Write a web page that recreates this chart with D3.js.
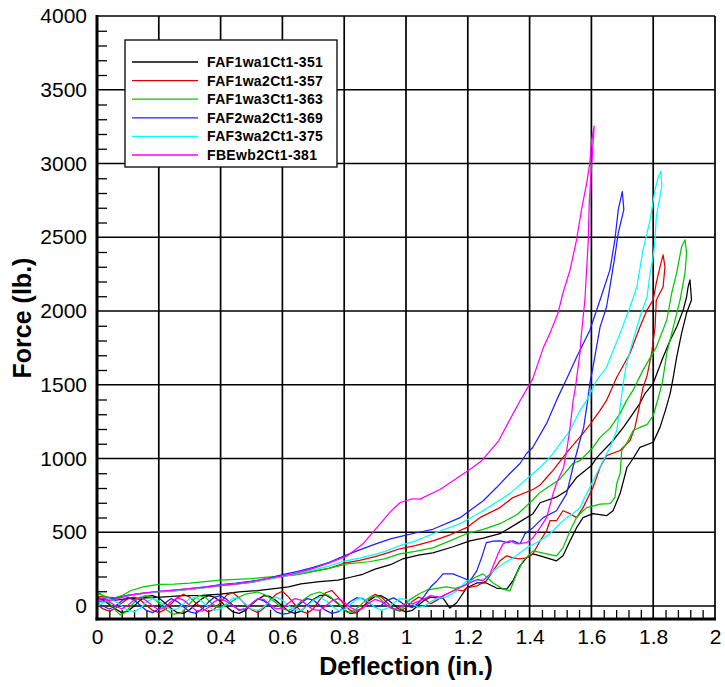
<!DOCTYPE html>
<html>
<head>
<meta charset="utf-8">
<script src="https://cdn.jsdelivr.net/npm/d3@7/dist/d3.min.js"></script>
<style>
  body { margin: 0; background: #fff; }
  text { font-family: Arial, "Liberation Sans", sans-serif; }
</style>
</head>
<body>
<div id="chart"></div>
<script>
// specimen names and line colours (legend order)
var names = ["FAF1wa1Ct1-351", "FAF1wa2Ct1-357", "FAF1wa3Ct1-363", "FAF2wa2Ct1-369", "FAF3wa2Ct1-375", "FBEwb2Ct1-381"];
var colors = ["#000000", "#e00000", "#00c800", "#2020ff", "#00ffff", "#ff00ff"];

// [deflection (in.), force (lb.)] : lower branch up to the peak, then upper branch back to 0
var s351 = [[0,60],[0.02,40],[0.04,10],[0.06,-20],[0.08,-45],[0.10,-35],[0.12,0],[0.14,40],[0.16,65],[0.18,70],[0.20,55],[0.22,20],[0.24,-15],[0.26,-45],[0.28,-50],[0.30,-25],[0.32,15],[0.34,50],[0.36,70],[0.38,60],[0.40,30],[0.42,-5],[0.44,-40],[0.46,-50],[0.48,-30],[0.50,10],[0.52,45],[0.54,70],[0.56,65],[0.58,35],[0.60,0],[0.62,-35],[0.64,-50],[0.66,-35],[0.68,5],[0.70,45],[0.72,70],[0.74,75],[0.76,50],[0.78,15],[0.80,-25],[0.82,-50],[0.84,-45],[0.86,-10],[0.88,35],[0.90,65],[0.92,70],[0.94,45],[0.96,10],[0.98,-25],[1.00,-40],[1.02,-30],[1.04,5],[1.06,40],[1.08,60],[1.10,55],[1.12,54],[1.142,-14],[1.164,22],[1.196,122],[1.229,156],[1.26,156],[1.293,122],[1.326,115],[1.346,170],[1.369,272],[1.39,326],[1.411,354],[1.434,340],[1.466,320],[1.487,306],[1.508,340],[1.531,442],[1.552,531],[1.573,599],[1.605,626],[1.649,612],[1.67,646],[1.693,762],[1.715,939],[1.735,1000],[1.757,1075],[1.80,1110],[1.822,1211],[1.84,1330],[1.855,1442],[1.865,1551],[1.876,1687],[1.892,1850],[1.908,1986],[1.924,2075],[1.919,2211],
  [1.913,2163],[1.908,2095],[1.897,2006],[1.876,1891],[1.855,1802],[1.832,1687],[1.80,1510],[1.774,1442],[1.757,1374],[1.735,1306],[1.704,1212],[1.67,1122],[1.618,1008],[1.60,952],[1.553,873],[1.52,782],[1.489,740],[1.434,700],[1.411,626],[1.36,560],[1.304,490],[1.25,460],[1.207,442],[1.15,400],[1.087,360],[1.04,345],[0.99,320],[0.95,280],[0.90,250],[0.86,215],[0.82,195],[0.78,175],[0.72,165],[0.66,150],[0.62,130],[0.58,120],[0.52,105],[0.46,95],[0.40,80],[0.34,72],[0.28,70],[0.22,62],[0.16,55],[0.10,50],[0.06,40],[0.03,45],[0,55]];

var s357 = [[0,10],[0.02,-20],[0.04,-35],[0.06,-15],[0.08,20],[0.10,50],[0.12,60],[0.14,40],[0.16,5],[0.18,-30],[0.20,-45],[0.22,-25],[0.24,15],[0.26,55],[0.28,80],[0.30,60],[0.32,20],[0.34,-15],[0.36,-40],[0.38,-20],[0.40,25],[0.42,75],[0.44,90],[0.46,55],[0.48,10],[0.50,-25],[0.52,-45],[0.54,-15],[0.56,40],[0.58,80],[0.60,100],[0.62,60],[0.64,10],[0.66,-35],[0.68,-50],[0.70,-20],[0.72,40],[0.74,90],[0.76,105],[0.78,60],[0.80,10],[0.82,-30],[0.84,-45],[0.86,-10],[0.88,45],[0.90,80],[0.92,60],[0.94,20],[0.96,-20],[0.98,-35],[1.00,-10],[1.02,30],[1.04,60],[1.06,45],[1.08,15],[1.10,40],[1.13,80],[1.16,110],[1.185,102],[1.196,122],[1.229,136],[1.26,170],[1.282,238],[1.304,306],[1.326,340],[1.346,326],[1.369,320],[1.39,326],[1.411,354],[1.434,442],[1.455,510],[1.466,578],[1.487,578],[1.508,646],[1.531,626],[1.552,599],[1.573,667],[1.605,803],[1.628,939],[1.649,1020],[1.693,1054],[1.725,1122],[1.741,1211],[1.752,1320],[1.767,1480],[1.78,1560],[1.795,1714],[1.806,1891],[1.81,2075],[1.832,2163],[1.838,2299],[1.832,2381],
  [1.822,2299],[1.81,2190],[1.80,2075],[1.78,2006],[1.757,1891],[1.725,1714],[1.682,1551],[1.649,1394],[1.628,1326],[1.595,1230],[1.573,1170],[1.52,1040],[1.476,920],[1.455,871],[1.434,820],[1.411,790],[1.346,735],[1.304,667],[1.239,599],[1.196,531],[1.14,480],[1.087,442],[1.03,410],[0.98,388],[0.94,360],[0.90,335],[0.85,310],[0.80,290],[0.75,255],[0.70,235],[0.65,215],[0.60,200],[0.55,180],[0.50,160],[0.45,148],[0.40,138],[0.35,125],[0.30,112],[0.25,102],[0.20,95],[0.15,88],[0.10,72],[0.06,55],[0.03,60],[0,65]];

var s363 = [[0,100],[0.02,70],[0.04,20],[0.06,-30],[0.075,-60],[0.09,-45],[0.11,0],[0.13,45],[0.155,70],[0.18,55],[0.20,20],[0.22,-20],[0.246,-55],[0.27,-50],[0.29,-10],[0.31,40],[0.33,70],[0.35,60],[0.37,20],[0.39,-10],[0.41,-5],[0.43,20],[0.45,50],[0.48,80],[0.52,95],[0.55,70],[0.58,20],[0.60,-20],[0.62,-30],[0.64,-10],[0.66,30],[0.69,75],[0.72,95],[0.75,70],[0.78,20],[0.81,-45],[0.83,-35],[0.85,0],[0.87,40],[0.89,70],[0.91,60],[0.93,20],[0.95,-15],[0.97,-30],[0.99,-10],[1.01,40],[1.04,80],[1.07,110],[1.10,120],[1.13,130],[1.16,120],[1.19,140],[1.22,190],[1.249,218],[1.282,156],[1.314,115],[1.336,102],[1.358,218],[1.379,306],[1.411,374],[1.434,363],[1.455,354],[1.487,340],[1.508,394],[1.531,510],[1.552,600],[1.573,646],[1.585,667],[1.628,690],[1.66,694],[1.676,735],[1.682,830],[1.693,898],[1.698,1054],[1.714,1102],[1.735,1190],[1.757,1211],[1.78,1230],[1.80,1290],[1.815,1400],[1.83,1520],[1.844,1714],[1.865,1891],[1.887,2075],[1.903,2259],[1.908,2394],[1.903,2483],
  [1.892,2436],[1.876,2259],[1.86,2122],[1.844,1939],[1.81,1755],[1.767,1599],[1.735,1463],[1.714,1394],[1.693,1306],[1.66,1204],[1.628,1143],[1.605,1075],[1.563,986],[1.54,966],[1.498,860],[1.434,770],[1.411,720],[1.36,620],[1.304,558],[1.25,520],[1.196,490],[1.14,440],[1.087,394],[1.03,370],[0.98,354],[0.93,320],[0.88,300],[0.81,285],[0.75,255],[0.70,235],[0.65,215],[0.60,204],[0.55,195],[0.50,185],[0.45,180],[0.40,176],[0.35,165],[0.30,155],[0.25,148],[0.20,146],[0.15,130],[0.11,105],[0.08,70],[0.05,50],[0.02,70],[0,85]];

var s369 = [[0,20],[0.02,0],[0.04,-20],[0.06,0],[0.08,35],[0.10,60],[0.12,40],[0.14,5],[0.16,-30],[0.18,-45],[0.20,-20],[0.22,20],[0.24,50],[0.26,30],[0.28,-5],[0.30,-40],[0.32,-50],[0.34,-20],[0.36,25],[0.38,60],[0.40,70],[0.42,45],[0.44,5],[0.46,-30],[0.48,-20],[0.50,15],[0.52,50],[0.54,35],[0.56,0],[0.58,-40],[0.60,-55],[0.62,-50],[0.64,-20],[0.66,20],[0.68,50],[0.70,40],[0.72,5],[0.74,-30],[0.76,-50],[0.78,-40],[0.80,-10],[0.82,30],[0.84,55],[0.86,50],[0.88,20],[0.90,-10],[0.92,5],[0.94,40],[0.96,55],[0.98,30],[1.00,0],[1.02,-10],[1.04,20],[1.06,70],[1.08,130],[1.10,170],[1.12,218],[1.152,218],[1.185,190],[1.207,170],[1.229,238],[1.245,330],[1.26,430],[1.282,440],[1.304,442],[1.33,430],[1.346,442],[1.369,421],[1.385,490],[1.411,531],[1.444,599],[1.487,646],[1.52,762],[1.54,939],[1.56,1100],[1.575,1211],[1.588,1394],[1.595,1510],[1.605,1618],[1.628,1891],[1.649,2027],[1.66,2163],[1.676,2370],[1.687,2530],[1.705,2687],[1.70,2810],
  [1.687,2687],[1.676,2483],[1.66,2279],[1.628,2075],[1.595,1870],[1.552,1687],[1.52,1540],[1.487,1394],[1.455,1238],[1.41,1075],[1.39,1034],[1.369,966],[1.336,898],[1.293,803],[1.25,714],[1.175,599],[1.087,520],[1.03,495],[0.98,470],[0.95,455],[0.90,420],[0.85,380],[0.80,340],[0.75,295],[0.70,262],[0.65,235],[0.60,212],[0.55,185],[0.50,168],[0.45,155],[0.40,145],[0.35,130],[0.30,118],[0.25,108],[0.20,100],[0.15,85],[0.10,72],[0.06,50],[0.03,45],[0,40]];

var s375 = [[0,0],[0.02,20],[0.04,45],[0.06,30],[0.08,0],[0.10,-30],[0.12,-40],[0.14,-15],[0.16,25],[0.18,50],[0.20,35],[0.22,0],[0.24,-25],[0.26,-20],[0.28,15],[0.30,50],[0.32,60],[0.34,30],[0.36,-5],[0.38,-30],[0.40,-20],[0.42,20],[0.44,55],[0.46,50],[0.48,15],[0.50,-20],[0.52,-30],[0.54,-5],[0.56,35],[0.58,60],[0.60,40],[0.62,0],[0.64,-25],[0.66,-30],[0.68,0],[0.70,40],[0.72,60],[0.74,35],[0.76,0],[0.78,-30],[0.80,-25],[0.82,10],[0.84,45],[0.86,55],[0.88,25],[0.90,-10],[0.92,-30],[0.94,-15],[0.96,20],[0.98,50],[1.00,45],[1.02,15],[1.04,-10],[1.06,0],[1.08,30],[1.10,50],[1.13,60],[1.164,102],[1.196,170],[1.229,170],[1.26,190],[1.282,238],[1.314,286],[1.346,326],[1.39,394],[1.434,442],[1.466,490],[1.498,558],[1.52,599],[1.54,626],[1.563,667],[1.585,762],[1.617,898],[1.66,1075],[1.682,1190],[1.693,1347],[1.703,1510],[1.714,1646],[1.735,1802],[1.757,1959],[1.78,2095],[1.79,2259],[1.80,2370],[1.806,2483],[1.81,2640],[1.828,2846],[1.825,2948],
  [1.817,2912],[1.806,2823],[1.79,2618],[1.767,2414],[1.747,2163],[1.725,2027],[1.693,1850],[1.649,1618],[1.617,1530],[1.585,1394],[1.563,1326],[1.531,1190],[1.52,1160],[1.476,1034],[1.455,986],[1.434,939],[1.411,898],[1.336,762],[1.25,646],[1.175,558],[1.087,490],[1.03,440],[0.98,410],[0.94,375],[0.90,350],[0.85,325],[0.80,305],[0.75,270],[0.70,245],[0.65,220],[0.60,200],[0.55,180],[0.50,162],[0.45,150],[0.40,140],[0.35,125],[0.30,115],[0.25,105],[0.20,98],[0.15,85],[0.10,70],[0.06,45],[0.03,30],[0,25]];

var s381 = [[0,40],[0.02,55],[0.04,30],[0.06,0],[0.08,-20],[0.10,5],[0.12,40],[0.14,60],[0.16,35],[0.18,0],[0.20,-25],[0.22,-10],[0.24,30],[0.26,55],[0.28,40],[0.30,5],[0.32,-30],[0.34,-35],[0.36,-10],[0.38,30],[0.40,50],[0.42,30],[0.44,0],[0.46,-25],[0.48,-20],[0.50,15],[0.52,50],[0.54,45],[0.56,10],[0.58,-20],[0.60,-15],[0.62,20],[0.64,50],[0.66,40],[0.68,5],[0.70,-25],[0.72,-30],[0.74,0],[0.76,35],[0.78,50],[0.80,25],[0.82,-10],[0.84,-30],[0.86,-15],[0.88,20],[0.90,45],[0.92,30],[0.94,0],[0.96,-20],[0.98,-10],[1.00,20],[1.02,14],[1.05,40],[1.08,70],[1.11,60],[1.14,90],[1.17,120],[1.20,150],[1.23,180],[1.249,170],[1.272,218],[1.298,354],[1.314,421],[1.336,442],[1.358,421],[1.39,429],[1.411,463],[1.434,531],[1.455,599],[1.476,762],[1.487,830],[1.51,939],[1.52,1054],[1.531,1210],[1.541,1394],[1.547,1463],[1.563,1714],[1.568,1850],[1.579,2075],[1.59,2483],[1.593,2735],[1.60,2960],[1.609,3254],
  [1.601,3163],[1.595,3006],[1.585,2870],[1.568,2687],[1.552,2483],[1.531,2279],[1.508,2122],[1.492,1986],[1.466,1850],[1.445,1755],[1.41,1540],[1.37,1395],[1.33,1240],[1.30,1120],[1.245,985],[1.21,930],[1.11,790],[1.045,725],[1.02,727],[0.98,700],[0.95,640],[0.905,530],[0.86,420],[0.81,340],[0.75,290],[0.70,255],[0.65,225],[0.60,205],[0.55,185],[0.50,165],[0.45,150],[0.40,140],[0.35,128],[0.30,118],[0.25,108],[0.20,100],[0.15,88],[0.10,72],[0.06,45],[0.03,35],[0,30]];

var series = [s351, s357, s363, s369, s375, s381];

var xTicks = [0, 0.2, 0.4, 0.6, 0.8, 1, 1.2, 1.4, 1.6, 1.8, 2];
var yTicks = [0, 500, 1000, 1500, 2000, 2500, 3000, 3500, 4000];

function drawChart() {
  var width = 725, height = 687;
  var plotLeft = 97, plotRight = 715, plotTop = 16, plotBottom = 619;

  var x = d3.scaleLinear().domain([0, 2]).range([plotLeft, plotRight]);
  var y = d3.scaleLinear().domain([0, 4000]).range([606, plotTop]);

  var svg = d3.select("#chart").append("svg")
      .attr("width", width)
      .attr("height", height)
      .style("background", "#fff");

  //grid
  svg.append("g")
    .selectAll("line")
    .data(xTicks)
    .enter().append("line")
      .attr("x1", function(d) { return x(d); })
      .attr("x2", function(d) { return x(d); })
      .attr("y1", plotTop)
      .attr("y2", plotBottom)
      .attr("stroke", "#000")
      .attr("stroke-width", 1.7);

  svg.append("g")
    .selectAll("line")
    .data(yTicks)
    .enter().append("line")
      .attr("x1", plotLeft)
      .attr("x2", plotRight)
      .attr("y1", function(d) { return y(d); })
      .attr("y2", function(d) { return y(d); })
      .attr("stroke", "#000")
      .attr("stroke-width", 1.7);

  //minor ticks
  var xMinor = d3.range(0.04, 2, 0.04).filter(function(d) { return Math.abs(d / 0.2 - Math.round(d / 0.2)) > 0.01; });
  var yMinor = d3.range(100, 4000, 100).filter(function(d) { return d % 500 !== 0; });

  svg.append("g")
      .attr("transform", "translate(0," + plotBottom + ")")
      .call(d3.axisBottom(x).tickValues(xMinor).tickSize(-9).tickFormat(""))
      .call(function(g) { g.select(".domain").remove(); g.selectAll("line").attr("stroke-width", 1.3); });

  svg.append("g")
      .attr("transform", "translate(" + plotLeft + ",0)")
      .call(d3.axisLeft(y).tickValues(yMinor).tickSize(-10).tickFormat(""))
      .call(function(g) { g.select(".domain").remove(); g.selectAll("line").attr("stroke-width", 1.3); });

  //tick labels
  svg.append("g")
      .attr("transform", "translate(0," + plotBottom + ")")
      .call(d3.axisBottom(x).tickValues(xTicks).tickSize(0).tickPadding(10).tickFormat(d3.format("")))
      .call(function(g) {
        g.select(".domain").remove();
        g.selectAll("text").attr("font-size", 21).attr("fill", "#000").attr("font-family", "Arial, 'Liberation Sans', sans-serif");
      });

  svg.append("g")
      .attr("transform", "translate(" + plotLeft + ",0)")
      .call(d3.axisLeft(y).tickValues(yTicks).tickSize(0).tickPadding(10).tickFormat(d3.format("")))
      .call(function(g) {
        g.select(".domain").remove();
        g.selectAll("text").attr("font-size", 21).attr("fill", "#000").attr("font-family", "Arial, 'Liberation Sans', sans-serif");
      });

  //curves
  var line = d3.line()
      .x(function(d) { return x(d[0]); })
      .y(function(d) { return y(d[1]); });

  svg.append("g")
    .selectAll("path")
    .data(series)
    .enter().append("path")
      .attr("d", line)
      .attr("fill", "none")
      .attr("stroke", function(d, i) { return colors[i]; })
      .attr("stroke-width", 1.25)
      .attr("stroke-linejoin", "round");

  //axis lines
  svg.append("line").attr("x1", plotLeft).attr("x2", plotLeft).attr("y1", plotTop - 1).attr("y2", plotBottom + 1.5)
      .attr("stroke", "#000").attr("stroke-width", 3);
  svg.append("line").attr("x1", plotLeft - 1.5).attr("x2", plotRight + 1).attr("y1", plotBottom).attr("y2", plotBottom)
      .attr("stroke", "#000").attr("stroke-width", 3);

  //axis titles
  svg.append("text")
      .attr("x", (plotLeft + plotRight) / 2)
      .attr("y", 675)
      .attr("text-anchor", "middle")
      .attr("font-size", 25)
      .attr("font-weight", "bold")
      .text("Deflection (in.)");

  svg.append("text")
      .attr("transform", "translate(31,318) rotate(-90)")
      .attr("text-anchor", "middle")
      .attr("font-size", 25)
      .attr("font-weight", "bold")
      .text("Force (lb.)");

  //legend
  var legend = svg.append("g");
  legend.append("rect")
      .attr("x", 125).attr("y", 40)
      .attr("width", 212).attr("height", 127)
      .attr("fill", "#fff")
      .attr("stroke", "#000")
      .attr("stroke-width", 1.3);

  var rows = legend.selectAll("g")
      .data(names)
    .enter().append("g")
      .attr("transform", function(d, i) { return "translate(0," + (62 + i * 18.6) + ")"; });

  rows.append("line")
      .attr("x1", 132).attr("x2", 198)
      .attr("stroke", function(d, i) { return colors[i]; })
      .attr("stroke-width", 1.3);

  rows.append("text")
      .attr("x", 207)
      .attr("dy", "0.36em")
      .attr("font-size", 14)
      .attr("font-weight", "bold")
      .attr("letter-spacing", 0.35)
      .text(function(d) { return d; });
}

drawChart();
</script>
</body>
</html>
